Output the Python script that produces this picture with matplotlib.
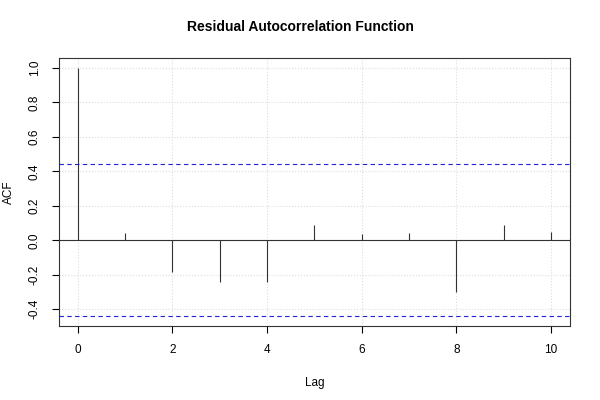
import numpy as np
import matplotlib
matplotlib.use("Agg")
import matplotlib.pyplot as plt

plt.rcParams['font.family'] = ['Liberation Sans', 'DejaVu Sans']

# Residual ACF values
lags = [0, 1, 2, 3, 4, 5, 6, 7, 8, 9, 10]
acf_values = [1.0, 0.04, -0.186, -0.244, -0.244, 0.087, 0.035, 0.04, -0.30, 0.087, 0.045]
conf_limit = 0.44
x_ticks = [0, 2, 4, 6, 8, 10]
y_ticks = [-0.4, -0.2, 0.0, 0.2, 0.4, 0.6, 0.8, 1.0]

fig = plt.figure(figsize=(6, 4), dpi=100)
ax = fig.add_axes([0.098, 0.185, 0.852, 0.67])

# grid
for t in x_ticks:
    ax.axvline(t, color='#dddddd', linestyle=':', linewidth=0.8, zorder=0)
for t in y_ticks:
    ax.axhline(t, color='#dddddd', linestyle=':', linewidth=0.8, zorder=0)

ax.vlines(lags, 0, acf_values, color='#333333', linewidth=0.8)
ax.axhline(0, color='#333333', linewidth=0.8)
ax.axhline(conf_limit, color='#2222dd', linestyle=(0, (4, 3)), linewidth=0.8)
ax.axhline(-conf_limit, color='#2222dd', linestyle=(0, (4, 3)), linewidth=0.8)

ax.set_xlim(-0.4, 10.4)
ax.set_ylim(-0.4976, 1.0576)
ax.set_xticks(x_ticks)
ax.set_yticks(y_ticks)
ax.set_yticklabels([f"{v:.1f}" for v in y_ticks], rotation=90, va='center')
ax.tick_params(direction='out', length=5, width=0.8, labelsize=8.5, pad=8)
for s in ax.spines.values():
    s.set_linewidth(0.8)
    s.set_color('#333333')

ax.set_xlabel("Lag", fontsize=8.5, labelpad=15)
ax.set_ylabel("ACF", fontsize=8.5, labelpad=10)
fig.suptitle("Residual Autocorrelation Function", fontsize=10, fontweight='bold', y=0.95)

fig.savefig("out.png", dpi=100)
